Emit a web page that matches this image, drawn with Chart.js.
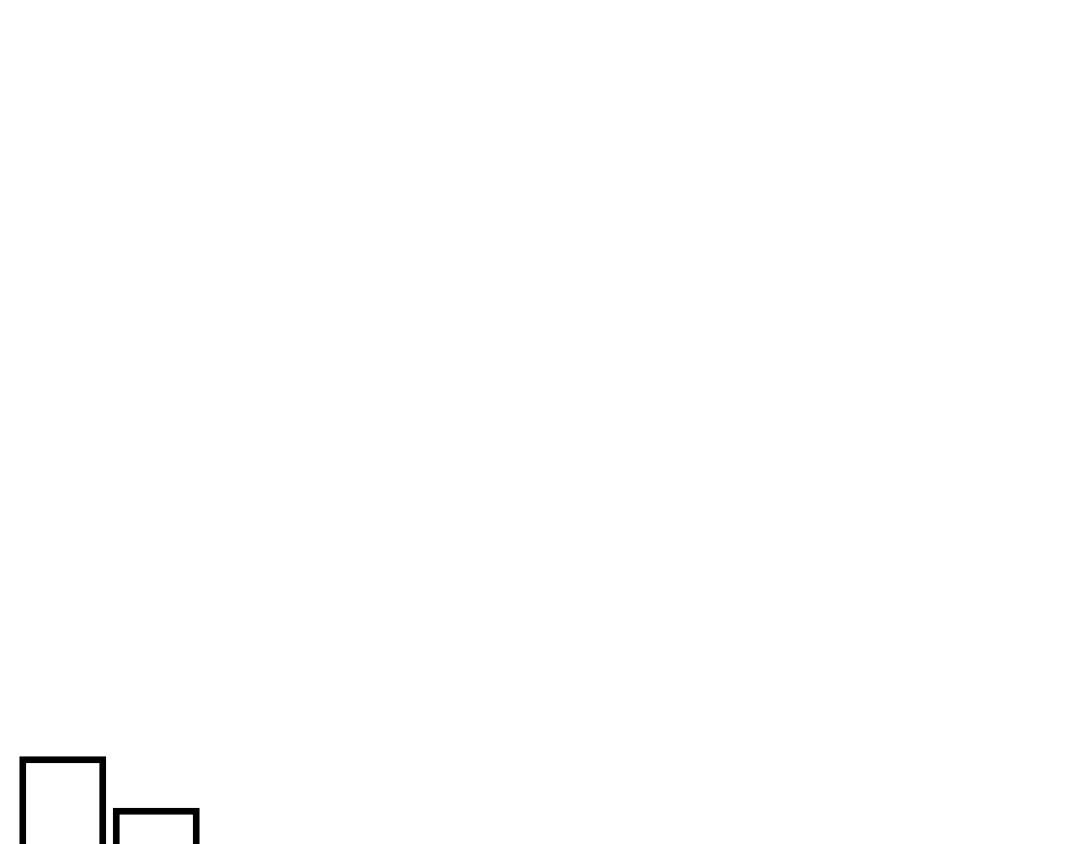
<!DOCTYPE html>
<html>
<head>
<meta charset="utf-8">
<script src="https://cdn.jsdelivr.net/npm/chart.js@4"></script>
<style>
  html, body { margin: 0; padding: 0; background: #ffffff; overflow: hidden; }
  #wrap { position: relative; width: 1080px; height: 844px; }
</style>
</head>
<body>
<div id="wrap"><canvas id="c"></canvas></div>
<script>
const categories = ['1', '2'];
const values = [10.4, 4.3];
const yMin = 0;
const yMax = 100;

new Chart(document.getElementById('c'), {
  type: 'bar',
  data: {
    labels: categories,
    datasets: [{
      data: values,
      backgroundColor: '#ffffff',
      borderColor: '#000000',
      borderWidth: 7,
      borderSkipped: 'start',
      barPercentage: 0.93,
      categoryPercentage: 1
    }]
  },
  options: {
    responsive: true,
    maintainAspectRatio: false,
    animation: false,
    layout: { padding: { left: 16, right: 877, top: 0, bottom: 0 } },
    plugins: { legend: { display: false }, tooltip: { enabled: false }, title: { display: false } },
    scales: {
      x: { display: false },
      y: { display: false, min: yMin, max: yMax }
    }
  }
});
</script>
</body>
</html>
